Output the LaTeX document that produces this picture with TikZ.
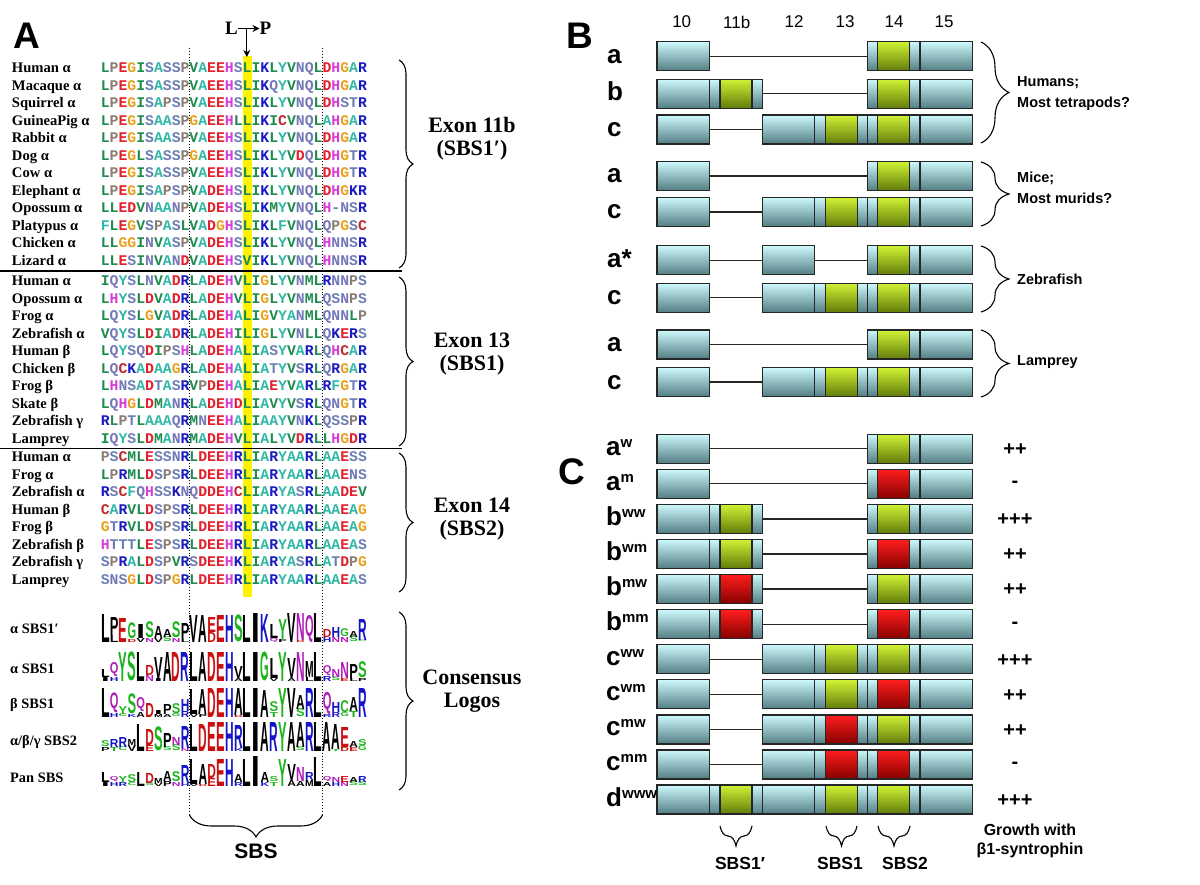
\documentclass[tikz,border=0pt]{standalone}
\usepackage{fontspec}
\usepackage{graphicx}
\setmainfont{Liberation Serif}
\setsansfont{Liberation Sans}
\newfontfamily\seqfont{Liberation Mono}
\usetikzlibrary{decorations.pathreplacing,arrows.meta}
% alignment colours
\definecolor{sqL}{HTML}{1E8C4E}\definecolor{sqI}{HTML}{1E8C4E}
\definecolor{sqV}{HTML}{1E8C4E}\definecolor{sqM}{HTML}{1E8C4E}
\definecolor{sqA}{HTML}{2EB8A6}\definecolor{sqY}{HTML}{2EB8A6}
\definecolor{sqF}{HTML}{2EB8A6}\definecolor{sqW}{HTML}{2EB8A6}
\definecolor{sqC}{HTML}{C0282D}
\definecolor{sqS}{HTML}{6C7FB4}\definecolor{sqT}{HTML}{6C7FB4}
\definecolor{sqN}{HTML}{7478B8}\definecolor{sqQ}{HTML}{7478B8}
\definecolor{sqP}{HTML}{8A7E74}
\definecolor{sqD}{HTML}{E3202B}\definecolor{sqE}{HTML}{E3202B}
\definecolor{sqH}{HTML}{D83CD8}
\definecolor{sqK}{HTML}{1A1AC4}\definecolor{sqR}{HTML}{1A1AC4}
\definecolor{sqG}{HTML}{E8A21C}
\definecolor{sqdash}{HTML}{6C7FB4}
% logo colours
\definecolor{lgG}{HTML}{1DB51D}\definecolor{lgP}{HTML}{B01CB8}
\definecolor{lgB}{HTML}{1414C8}\definecolor{lgR}{HTML}{CC1010}
\colorlet{lcA}{black}\colorlet{lcV}{black}\colorlet{lcL}{black}\colorlet{lcI}{black}
\colorlet{lcP}{black}\colorlet{lcW}{black}\colorlet{lcF}{black}\colorlet{lcM}{black}
\colorlet{lcG}{lgG}\colorlet{lcS}{lgG}\colorlet{lcT}{lgG}\colorlet{lcY}{lgG}\colorlet{lcC}{lgG}
\colorlet{lcN}{lgP}\colorlet{lcQ}{lgP}
\colorlet{lcK}{lgB}\colorlet{lcR}{lgB}\colorlet{lcH}{lgB}
\colorlet{lcD}{lgR}\colorlet{lcE}{lgR}
% exon shading colours
\definecolor{exT}{RGB}{205,248,252}\definecolor{exB}{RGB}{82,126,131}
\definecolor{grT}{RGB}{208,242,52}\definecolor{grB}{RGB}{98,124,10}
\definecolor{rdT}{RGB}{255,30,30}\definecolor{rdB}{RGB}{135,0,0}
\makeatletter
\def\colseq#1{\cs@l#1\@nil}
\def\cs@l#1{\ifx#1\@nil\else\ifx#1-\textcolor{sqdash}{-}\else\textcolor{sq#1}{#1}\fi\expandafter\cs@l\fi}
\makeatother
\newcommand\exP[3]{\node[exbox] (#1) at ({683.3+52.6*#2},#3) {};}
\newcommand\exC[4]{\exP{#1}{#2}{#3}\node[#4] (#1i) at (#1.center) {};}
\newcommand\rowA[3]{\exP{#1e0}{0}{#2}\exC{#1e4}{4}{#2}{#3}\exP{#1e5}{5}{#2}%
  \draw[intron] (#1e0.east) -- (#1e4.west);}
\newcommand\rowB[4]{\exP{#1e0}{0}{#2}\exC{#1e1}{1}{#2}{#3}\exC{#1e4}{4}{#2}{#4}\exP{#1e5}{5}{#2}%
  \draw[intron] (#1e1.east) -- (#1e4.west);}
\newcommand\rowC[4]{\exP{#1e0}{0}{#2}\exP{#1e2}{2}{#2}\exC{#1e3}{3}{#2}{#3}\exC{#1e4}{4}{#2}{#4}\exP{#1e5}{5}{#2}%
  \draw[intron] (#1e0.east) -- (#1e2.west);}
\newcommand\rowAs[2]{\exP{#1e0}{0}{#2}\exP{#1e2}{2}{#2}\exC{#1e4}{4}{#2}{gr}\exP{#1e5}{5}{#2}%
  \draw[intron] (#1e0.east) -- (#1e2.west);\draw[intron] (#1e2.east) -- (#1e4.west);}
\newcommand\rowD[2]{\exP{#1e0}{0}{#2}\exC{#1e1}{1}{#2}{gr}\exP{#1e2}{2}{#2}\exC{#1e3}{3}{#2}{gr}\exC{#1e4}{4}{#2}{gr}\exP{#1e5}{5}{#2}}
\newcommand\logorow[3]{%
  \foreach \La/\Ha/\Lb/\Hb [count=\i from 0] in {#3}{%
    \pgfmathsetmacro\xx{101.0+\i*8.87}%
    \pgfmathsetmacro\yy{#2-\Hb}%
    \ifdim\Hb pt>0pt
      \node[logo] (#1b\i) at (\xx,#2) {\resizebox*{8.6pt}{\Hb pt}{\textcolor{lc\Lb}{\Lb}}};
    \fi
    \node[logo] (#1a\i) at (\xx,\yy) {\resizebox*{8.6pt}{\Ha pt}{\textcolor{lc\La}{\La}}};
  }}
\begin{document}
\begin{tikzpicture}[x=1pt,y=-1pt,
 spname/.style={anchor=base west,inner sep=0pt,outer sep=0pt,font=\fontsize{14.6}{16}\selectfont\bfseries},
 seq/.style={anchor=base west,inner sep=0pt,outer sep=0pt,font=\fontsize{14.78}{16}\selectfont\seqfont\bfseries},
 lgname/.style={anchor=base west,inner sep=0pt,font=\fontsize{14.4}{16}\selectfont\bfseries},
 logo/.style={anchor=south west,inner sep=0pt,outer sep=0pt,font=\sffamily\bfseries\fontsize{20}{20}\selectfont},
 exlbl/.style={align=center,inner sep=0pt,font=\fontsize{22}{23}\selectfont\bfseries},
 panel/.style={anchor=base west,inner sep=0pt,font=\sffamily\bfseries\fontsize{37}{37}\selectfont},
 lp/.style={inner sep=0pt,font=\fontsize{19}{19}\selectfont\bfseries},
 colnum/.style={inner sep=0pt,font=\sffamily\fontsize{17}{17}\selectfont},
 rowlbl/.style={anchor=base west,inner sep=0pt,font=\sffamily\bfseries\fontsize{26}{26}\selectfont},
 grp/.style={anchor=west,inner sep=0pt,align=left,font=\sffamily\bfseries\fontsize{14.5}{21}\selectfont},
 grw/.style={inner sep=0pt,font=\sffamily\bfseries\fontsize{20}{20}\selectfont},
 sbs/.style={inner sep=0pt,font=\sffamily\bfseries\fontsize{17.5}{20}\selectfont},
 sbsbig/.style={inner sep=0pt,font=\sffamily\bfseries\fontsize{21}{21}\selectfont},
 gtxt/.style={inner sep=0pt,align=center,font=\sffamily\bfseries\fontsize{16}{19}\selectfont},
 exbox/.style={draw=black!85,line width=1.2pt,top color=exT,bottom color=exB,minimum height=29pt,minimum width=52.6pt,inner sep=0pt,outer sep=0pt},
 gr/.style={exbox,top color=grT,bottom color=grB,minimum width=32pt},
 rd/.style={exbox,top color=rdT,bottom color=rdB,minimum width=32pt},
 intron/.style={line width=1.2pt,black!85},
 brc/.style={decorate,decoration={brace,amplitude=#1},line width=1.1pt},
 dotl/.style={dotted,line width=0.9pt},
 sepl/.style={line width=1.2pt},
 arr/.style={-{Stealth[length=7pt,width=7pt]},line width=1.1pt}
]
\useasboundingbox (0,0) rectangle (1200,885);
\fill[white] (0,0) rectangle (1200,885);
% ================= Panel A =================
\node[panel] (pA) at (13,48.3) {A};
\fill[yellow] (242.6,56.5) rectangle (252,597);
\draw[dotl] (189.5,48) -- (189.5,815);
\draw[dotl] (322.5,48) -- (322.5,815);
\node[lp] (lpL) at (231.5,28.5) {L};
\node[lp] (lpP) at (265.5,28.5) {P};
\draw[arr] (lpL.east) -- (lpP.west);
\coordinate (lpm) at (246.8,29.3);
\coordinate (lpt) at (246.8,57);
\draw[arr] (lpm) -- (lpt);
% exon 11b
\foreach \n/\s [count=\i from 0] in {Human α/LPEGISASSPVAEEHSLIKLYVNQLDHGAR,
 Macaque α/LPEGISASSPVAEEHSLIKQYVNQLDHGAR, Squirrel α/LPEGISAPSPVAEEHSLIKLYVNQLDHSTR,
 GuineaPig α/LPEGISAASPGAEEHLLIKICVNQLAHGAR, Rabbit α/LPEGISAASPVAEEHSLIKLYVNQLDHGAR,
 Dog α/LPEGLSASSPGAEEHSLIKLYVDQLDHGTR, Cow α/LPEGISASSPVAEEHSLIKLYVNQLDHGTR,
 Elephant α/LPEGISAPSPVADEHSLIKLYVNQLDHGKR, Opossum α/LLEDVNAANPVADEHSLIKMYVNQLH-NSR,
 Platypus α/FLEGVSPASLVADGHSLIKLFVNQLQPGSC, Chicken α/LLGGINVASPVADEHSLIKLYVNQLHNNSR,
 Lizard α/LLESINVANDVADEHSVIKLYVNQLHNNSR}{
 \pgfmathsetmacro\yy{68+17.5*\i+4.7}
 \node[spname] (na\i) at (12,\yy) {\n};
 \node[seq] (sa\i) at (100.8,\yy) {\expandafter\colseq\expandafter{\s}};
}
\draw[sepl] (0,271) -- (402,271);
% exon 13
\foreach \n/\s [count=\i from 0] in {Human α/IQYSLNVADRLADEHVLIGLYVNMLRNNPS,
 Opossum α/LHYSLDVADRLADEHVLIGLYVNMLQSNPS, Frog α/LQYSLGVADRLADEHALIGVYANMLQNNLP,
 Zebrafish α/VQYSLDIADRLADEHILIGLYVNLLQKERS, Human β/LQYSQDIPSHLADEHALIASYVARLQHCAR,
 Chicken β/LQCKADAAGRLADEHALIATYVSRLQRGAR, Frog β/LHNSADTASRVPDEHALIAEYVARLRFGTR,
 Skate β/LQHGLDMANRLADEHDLIAVYVSRLQNGTR, Zebrafish γ/RLPTLAAAQRMNEEHALIAAYVNKLQSSPR,
 Lamprey/IQYSLDMANRMADEHVLIALYVDRLLHGDR}{
 \pgfmathsetmacro\yy{281+17.5*\i+4.7}
 \node[spname] (nb\i) at (12,\yy) {\n};
 \node[seq] (sb\i) at (100.8,\yy) {\expandafter\colseq\expandafter{\s}};
}
\draw[sepl] (0,448.5) -- (402,448.5);
% exon 14
\foreach \n/\s [count=\i from 0] in {Human α/PSCMLESSNRLDEEHRLIARYAARLAAESS,
 Frog α/LPRMLDSPSRLDEEHRLIARYAARLAAENS, Zebrafish α/RSCFQHSSKNQDDEHCLIARYASRLAADEV,
 Human β/CARVLDSPSRLDEEHRLIARYAARLAAEAG, Frog β/GTRVLDSPSRLDEEHRLIARYAARLAAEAG,
 Zebrafish β/HTTTLESPSRLDEEHRLIARYAARLAAEAS, Zebrafish γ/SPRALDSPVRSDEEHKLIARYASRLATDPG,
 Lamprey/SNSGLDSPGRLDEEHRLIARYAARLAAEAS}{
 \pgfmathsetmacro\yy{457+17.5*\i+4.7}
 \node[spname] (nc\i) at (12,\yy) {\n};
 \node[seq] (sc\i) at (100.8,\yy) {\expandafter\colseq\expandafter{\s}};
}
% logos
\node[lgname] (lgn1) at (10,633) {α SBS1′};
\node[lgname] (lgn2) at (10,673) {α SBS1};
\node[lgname] (lgn3) at (10,708) {β SBS1};
\node[lgname] (lgn4) at (10,745) {α/β/γ SBS2};
\node[lgname] (lgn5) at (10,782) {Pan SBS};
\logorow{lgA}{642}{L/28/x/0,P/18/L/7,E/24/x/0,G/16/D/3,I/14/V/4,S/16/N/4,A/12/V/4,A/8/S/5,S/16/N/4,P/16/L/3,V/27/x/0,A/27/x/0,E/15/D/10,E/27/x/0,H/27/x/0,S/27/x/0,L/27/x/0,I/29/x/0,K/28/x/0,L/14/Q/4,Y/20/F/3,V/29/x/0,N/27/D/2,Q/27/x/0,L/29/x/0,D/8/H/5,H/10/N/5,G/8/N/5,A/6/S/5,R/21/C/2}
\logorow{lgB}{681}{L/8/I/4,Q/14/H/4,Y/29/x/0,S/29/x/0,L/29/x/0,D/10/N/6,V/21/I/3,A/29/x/0,D/29/x/0,R/29/x/0,L/29/x/0,A/29/x/0,D/29/x/0,E/29/x/0,H/29/x/0,V/12/A/3,L/29/x/0,I/29/x/0,G/29/x/0,L/20/V/3,Y/29/x/0,V/20/A/3,N/29/x/0,M/16/L/4,L/29/x/0,Q/10/R/5,N/8/S/4,N/16/E/3,P/14/L/3,S/16/P/3}
\logorow{lgC}{717}{L/29/x/0,Q/20/H/4,Y/8/C/3,S/20/K/3,Q/14/A/5,D/14/x/0,I/4/M/3,P/10/A/3,S/10/G/3,H/12/R/6,L/25/V/3,A/25/P/3,D/29/x/0,E/29/x/0,H/29/x/0,A/27/D/2,L/29/x/0,I/29/x/0,A/27/x/0,S/10/T/5,Y/29/x/0,V/29/x/0,A/14/S/8,R/29/x/0,L/29/x/0,Q/22/R/3,H/10/R/5,C/12/G/4,A/14/T/6,R/29/x/0}
\logorow{lgD}{751}{S/6/P/4,R/8/T/4,R/10/C/4,M/6/V/6,L/27/x/0,D/16/E/6,S/24/x/0,P/14/S/4,N/8/S/6,R/22/N/3,L/27/x/0,D/27/x/0,E/29/x/0,E/29/x/0,H/29/x/0,R/23/K/3,L/29/x/0,I/29/x/0,A/29/x/0,R/29/x/0,Y/29/x/0,A/29/x/0,A/25/S/4,R/29/x/0,L/29/x/0,A/29/x/0,A/25/T/2,E/20/D/4,A/6/E/4,S/6/G/5}
\logorow{lgE}{786}{L/10/I/4,Q/5/H/4,Y/6/R/4,S/8/C/3,L/14/x/0,D/10/S/3,M/5/V/3,A/10/P/5,S/10/N/4,R/18/H/3,L/25/V/2,A/20/D/2,D/14/E/8,E/27/x/0,H/27/x/0,A/8/R/4,L/27/x/0,I/30/x/0,A/10/K/4,S/5/T/4,Y/27/x/0,V/16/A/6,N/14/A/5,R/8/M/6,L/29/x/0,Q/5/A/4,N/5/H/4,E/6/N/4,A/5/S/4,R/6/S/4}
% braces of panel A
\draw[brc=14pt] (399,60) -- (399,268);
\draw[brc=14pt] (399,277) -- (399,446);
\draw[brc=14pt] (399,453) -- (399,592);
\draw[brc=14pt] (399,612) -- (399,790);
\node[exlbl] (ex1) at (472,139) {Exon 11b\\(SBS1′)};
\node[exlbl] (ex2) at (472,354) {Exon 13\\(SBS1)};
\node[exlbl] (ex3) at (472,519) {Exon 14\\(SBS2)};
\node[exlbl] (ex4) at (472,691) {Consensus\\Logos};
\draw[brc=22pt] (322.5,815) -- (189.5,815);
\node[sbsbig] (sbsA) at (256,851) {SBS};
% ================= Panel B =================
\node[panel] (pB) at (566,48.3) {B};
\foreach \t/\x [count=\i from 0] in {10/681.7,11b/736.7,12/794,13/845,14/894,15/944}
  \node[colnum] (cn\i) at (\x,22) {\t};
\rowA{Ba}{56.3}{gr}
\rowB{Bb}{93.7}{gr}{gr}
\rowC{Bc}{129.5}{gr}{gr}
\rowA{Bd}{176}{gr}
\rowC{Be}{212}{gr}{gr}
\rowAs{Bf}{260.3}
\rowC{Bg}{297.8}{gr}{gr}
\rowA{Bh}{344.5}{gr}
\rowC{Bi}{382}{gr}{gr}
\foreach \t/\y [count=\i from 0] in {a/56.3,b/93.7,c/129.5,a/176,c/212,a*/260.3,c/297.8,a/344.5,c/382}
  \node[rowlbl] (bl\i) at (607,\y+7) {\t};
\draw[brc=28pt] (981,42) -- (981,143);
\draw[brc=28pt] (981,162) -- (981,226);
\draw[brc=28pt] (981,246) -- (981,312);
\draw[brc=28pt] (981,330) -- (981,397);
\node[grp] (g1) at (1017,93.5) {Humans;\\Most tetrapods?};
\node[grp] (g2) at (1017,187.5) {Mice;\\Most murids?};
\node[grp] (g3) at (1017,279) {Zebrafish};
\node[grp] (g4) at (1017,362) {Lamprey};
% ================= Panel C =================
\node[panel] (pC) at (558,484) {C};
\rowA{Ca}{448.7}{gr}
\rowA{Cb}{483.8}{rd}
\rowB{Cc}{518.9}{gr}{gr}
\rowB{Cd}{553.9}{gr}{rd}
\rowB{Ce}{589}{rd}{gr}
\rowB{Cf}{624.1}{rd}{rd}
\rowC{Cg}{659.2}{gr}{gr}
\rowC{Ch}{694.3}{gr}{rd}
\rowC{Ci}{729.4}{rd}{gr}
\rowC{Cj}{764.4}{rd}{rd}
\rowD{Ck}{799.5}
\foreach \t/\su/\y/\g [count=\i from 0] in {a/w/448.7/++,a/m/483.8/-,b/ww/518.9/+++,b/wm/553.9/++,b/mw/589/++,b/mm/624.1/-,c/ww/659.2/+++,c/wm/694.3/++,c/mw/729.4/++,c/mm/764.4/-,d/www/799.5/+++}{
  \node[rowlbl] (cl\i) at (606,\y+6.5) {\t\raisebox{8pt}{\fontsize{15}{15}\selectfont\su}};
  \node[grw] (gw\i) at (1015,\y+1) {\g};
}
\draw[brc=20pt] (752,826) -- (720,826);
\draw[brc=20pt] (857,826) -- (826,826);
\draw[brc=20pt] (910,826) -- (878,826);
\node[sbs] (s1) at (740,863) {SBS1′};
\node[sbs] (s2) at (840,863) {SBS1};
\node[sbs] (s3) at (905,863) {SBS2};
\node[gtxt] (gt) at (1030,841) {Growth with\\β1-syntrophin};
\end{tikzpicture}
\end{document}
